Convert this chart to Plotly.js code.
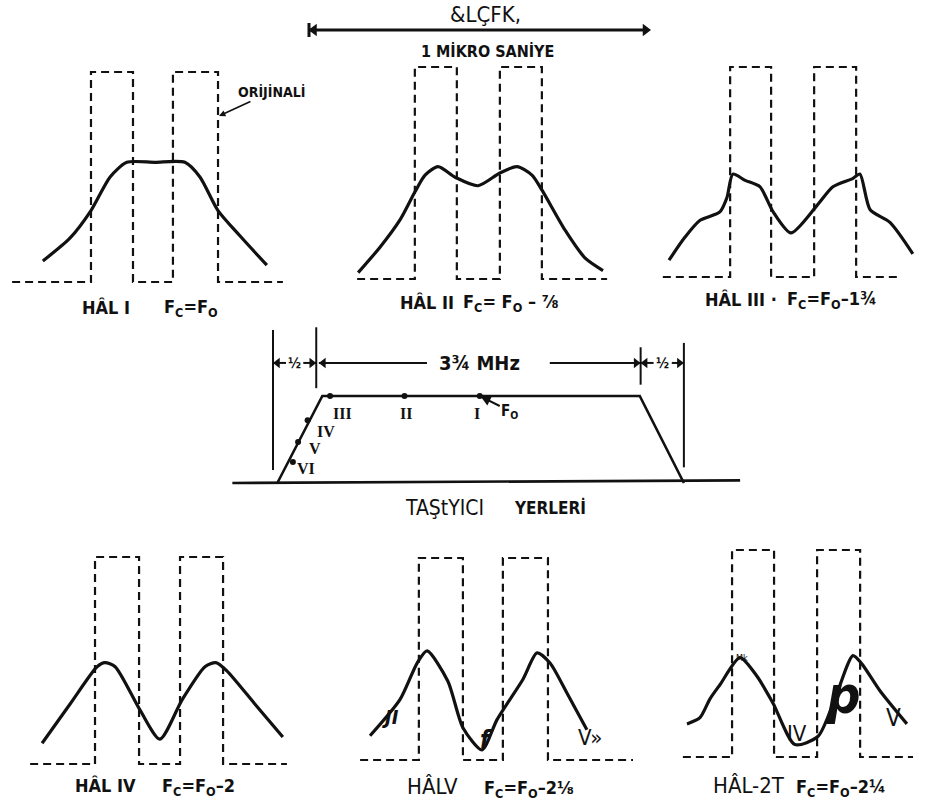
<!DOCTYPE html>
<html><head><meta charset="utf-8">
<script src="https://cdn.plot.ly/plotly-3.0.1.min.js"></script>
<style>html,body{margin:0;padding:0;background:#fff}#chart{width:944px;height:811px}</style>
</head><body><div id="chart"></div>
<script>
// ---------------- DATA (time in ns, amplitude relative to original pulse height) ----------------
const caseNames    = ['HÂL I', 'HÂL II', 'HÂL III ·', 'HÂL IV', 'HÂLV', 'HÂL-2T'];
const caseFormulas = ['F<sub>C</sub>=F<sub>O</sub>', 'F<sub>C</sub>= F<sub>O</sub> – ⅞', 'F<sub>C</sub>=F<sub>O</sub>–1¾',
                      'F<sub>C</sub>=F<sub>O</sub>–2', 'F<sub>C</sub>=F<sub>O</sub>–2⅛', 'F<sub>C</sub>=F<sub>O</sub>–2¼'];

const pulsesI = [[243, 366], [483, 615]];  const spanI = [12, 805];
const tI = [102, 182, 243, 299, 348, 430, 518, 562, 615, 679, 758];
const aI = [0.10, 0.21, 0.34, 0.50, 0.57, 0.57, 0.57, 0.50, 0.34, 0.22, 0.08];

const pulsesII = [[184, 307], [433, 556]]; const spanII = [15, 747];
const tII = [18, 82, 141, 184, 214, 252, 302, 369, 433, 483, 527, 556, 624, 682, 735];
const aII = [0.03, 0.15, 0.28, 0.41, 0.49, 0.53, 0.48, 0.44, 0.50, 0.53, 0.49, 0.42, 0.23, 0.10, 0.04];

const pulsesIII = [[220, 340], [466, 589]]; const spanIII = [23, 717];
const tIII = [41, 88, 132, 190, 211, 228, 264, 307, 346, 398, 474, 521, 580, 600, 630, 688, 755];
const aIII = [0.08, 0.19, 0.27, 0.31, 0.38, 0.49, 0.46, 0.43, 0.31, 0.21, 0.34, 0.43, 0.47, 0.49, 0.32, 0.26, 0.11];

const pulsesIV = [[205, 334], [454, 580]]; const spanIV = [15, 767];
const tIV = [50, 132, 211, 234, 264, 337, 395, 460, 527, 559, 591, 673, 755];
const aIV = [0.10, 0.29, 0.47, 0.49, 0.47, 0.26, 0.12, 0.31, 0.47, 0.49, 0.45, 0.29, 0.13];

const pulsesV = [[187, 316], [433, 565]]; const spanV = [15, 814];
const tV = [44, 132, 182, 211, 272, 316, 372, 416, 492, 533, 571, 621, 679];
const aV = [0.12, 0.30, 0.48, 0.54, 0.39, 0.16, 0.05, 0.20, 0.40, 0.53, 0.48, 0.33, 0.15];

const pulsesVI = [[211, 334], [460, 586]]; const spanVI = [67, 741];
const tVI = [79, 117, 146, 176, 234, 284, 331, 395, 463, 512, 565, 591, 644, 723];
const aVI = [0.16, 0.19, 0.28, 0.35, 0.48, 0.39, 0.26, 0.06, 0.10, 0.28, 0.49, 0.45, 0.32, 0.16];

// carrier positions on the pass band (frequency in MHz, relative amplitude)
const carrierLabels = ['I', 'II', 'III', 'IV', 'V', 'VI'];
const carrierFreq   = [2.39, 1.52, 0.66, 0.40, 0.29, 0.23];
const carrierAmp    = [1, 1, 1, 0.72, 0.47, 0.24];
const bandFreq = [0.05, 0.57, 4.24, 4.75];
const bandAmp  = [0, 1, 1, 0];
const bandMarks = [0, 0.5, 4.25, 4.75];
const bandDimLabels = ['½', '3¾ MHz', '½'];
const scaleBarNs = [0, 1000];

// ---------------- LAYOUT HELPERS ----------------
const W = 944, H = 811;
const NS = 0.3415;           // px per ns
const MHZ = 86.5;            // px per MHz
const INK = '#111';
const FN = '"Liberation Sans Narrow","DejaVu Sans Condensed","Liberation Sans",sans-serif';
const FB = '"DejaVu Sans Condensed","Liberation Sans Narrow","Liberation Sans",sans-serif';
const FS = '"Liberation Serif","DejaVu Serif",serif';

function xAx(pxL, pxR, px0, k) {
  return {domain: [pxL / W, pxR / W], range: [(pxL - px0) / k, (pxR - px0) / k], visible: false, fixedrange: true};
}
function yAx(pxT, pxB, px0, k) {
  return {domain: [1 - pxB / H, 1 - pxT / H], range: [(px0 - pxB) / k, (px0 - pxT) / k], visible: false, fixedrange: true};
}
function pulseTrain(p, span) {
  const x = [span[0]], y = [0];
  p.forEach(([s, e]) => { x.push(s, s, e, e); y.push(0, 1, 1, 0); });
  x.push(span[1]); y.push(0);
  return {x, y};
}

const panels = [
  {pulses: pulsesI,   span: spanI,   t: tI,   a: aI,   left: 8,   base: 282, top: 72},
  {pulses: pulsesII,  span: spanII,  t: tII,  a: aII,  left: 352, base: 279, top: 67},
  {pulses: pulsesIII, span: spanIII, t: tIII, a: aIII, left: 655, base: 277, top: 67},
  {pulses: pulsesIV,  span: spanIV,  t: tIV,  a: aIV,  left: 25,  base: 764, top: 557},
  {pulses: pulsesV,   span: spanV,   t: tV,   a: aV,   left: 355, base: 760, top: 558},
  {pulses: pulsesVI,  span: spanVI,  t: tVI,  a: aVI,  left: 660, base: 757, top: 550},
];
// label placement (px centres): [name x, name y, formula x, formula y]
const labelPos = [
  [106, 307, 191, 308], [427, 302, 511, 303], [741, 299, 832, 300],
  [105, 785, 198, 787], [432, 786, 529, 789], [749, 785, 841, 788],
];

const layout = {
  width: W, height: H, margin: {l: 0, r: 0, t: 0, b: 0},
  paper_bgcolor: '#ffffff', plot_bgcolor: 'rgba(0,0,0,0)', showlegend: false,
  annotations: [], shapes: []
};
const data = [];

panels.forEach((p, i) => {
  const n = i + 1, sx = n === 1 ? '' : String(n);
  const kY = p.base - p.top;
  layout['xaxis' + sx] = Object.assign(xAx(p.left, Math.min(p.left + 282, W - 1), p.left, NS), {anchor: 'y' + sx});
  layout['yaxis' + sx] = Object.assign(yAx(p.top - 28, p.base + 22, p.base, kY), {anchor: 'x' + sx});
  const pt = pulseTrain(p.pulses, p.span);
  data.push({x: pt.x, y: pt.y, xaxis: 'x' + sx, yaxis: 'y' + sx, mode: 'lines', hoverinfo: 'skip',
             line: {color: INK, width: 2.2, dash: '8px,5px'}});
  data.push({x: p.t, y: p.a, xaxis: 'x' + sx, yaxis: 'y' + sx, mode: 'lines', hoverinfo: 'skip',
             line: {color: INK, width: 3.2, shape: 'spline', smoothing: 0.7}});
  const lp = labelPos[i];
  const regular = i >= 4;
  layout.annotations.push({xref: 'paper', yref: 'paper', x: lp[0] / W, y: 1 - lp[1] / H, text: caseNames[i],
    showarrow: false, xanchor: 'center', yanchor: 'middle',
    font: {family: regular ? FN : FB, size: regular ? 22 : 18, color: INK, weight: regular ? 400 : 700}});
  layout.annotations.push({xref: 'paper', yref: 'paper', x: lp[2] / W, y: 1 - lp[3] / H, text: caseFormulas[i],
    showarrow: false, xanchor: 'center', yanchor: 'middle',
    font: {family: FB, size: 18, color: INK, weight: 700}});
});

// ---- pass-band diagram (subplot 7) ----
layout.xaxis7 = Object.assign(xAx(221, 750, 273, MHZ), {anchor: 'y7'});
layout.yaxis7 = Object.assign(yAx(318, 500, 483, 87), {anchor: 'x7'});
data.push({x: [-0.47, 5.40], y: [0, 0.03], xaxis: 'x7', yaxis: 'y7', mode: 'lines', hoverinfo: 'skip',
           line: {color: INK, width: 2.6}});
data.push({x: bandFreq, y: bandAmp, xaxis: 'x7', yaxis: 'y7', mode: 'lines', hoverinfo: 'skip',
           line: {color: INK, width: 2.6}});
const markSpans = [[0.15, 1.76], [1.09, 1.79], [1.13, 1.56], [0.18, 1.61]];
const vx = [], vy = [];
bandMarks.forEach((f, k) => { vx.push(f, f, null); vy.push(markSpans[k][0], markSpans[k][1], null); });
data.push({x: vx, y: vy, xaxis: 'x7', yaxis: 'y7', mode: 'lines', hoverinfo: 'skip', line: {color: INK, width: 2}});
data.push({x: carrierFreq, y: carrierAmp, xaxis: 'x7', yaxis: 'y7', mode: 'markers', hoverinfo: 'skip',
           marker: {color: INK, size: 6}});
const carrierShift = [[-3, -17], [2, -17], [12, -17], [18, -11], [17, -6], [13, -6]];
carrierLabels.forEach((lab, k) => {
  layout.annotations.push({xref: 'x7', yref: 'y7', x: carrierFreq[k], y: carrierAmp[k], text: lab,
    showarrow: false, xshift: carrierShift[k][0], yshift: carrierShift[k][1],
    font: {family: FS, size: 16, color: INK, weight: 700}});
});
layout.annotations.push({xref: 'x7', yref: 'y7', x: carrierFreq[0], y: 1, text: 'F<sub>O</sub>',
  showarrow: true, ax: 30, ay: 15, arrowhead: 2, arrowsize: 1, arrowwidth: 2, arrowcolor: INK, standoff: 1,
  font: {family: FB, size: 15, color: INK, weight: 700}});

// dimension lines with arrow heads (line segments + triangle markers)
const dimY = 1.38;
const dimSegs = [[0.15, 0, 'left'], [0.35, 0.5, 'right'], [1.78, 0.53, 'left'], [3.20, 4.25, 'right'],
                 [4.40, 4.25, 'left'], [4.61, 4.75, 'right']];
const dx = [], dy = [], hx = [], hy = [], hs = [];
const tip = 4.5 / MHZ;
dimSegs.forEach(([t, h, dir]) => {
  dx.push(t, h, null); dy.push(dimY, dimY, null);
  hx.push(dir === 'left' ? h + tip : h - tip); hy.push(dimY); hs.push('triangle-' + dir);
});
data.push({x: dx, y: dy, xaxis: 'x7', yaxis: 'y7', mode: 'lines', hoverinfo: 'skip', line: {color: INK, width: 2}});
data.push({x: hx, y: hy, xaxis: 'x7', yaxis: 'y7', mode: 'markers', hoverinfo: 'skip',
           marker: {symbol: hs, size: 9, color: INK}});
[[0.25, 0, 14], [2.39, 1, 20], [4.5, 2, 14]].forEach(([f, k, s]) => {
  layout.annotations.push({xref: 'x7', yref: 'y7', x: f, y: dimY, text: bandDimLabels[k], showarrow: false,
    font: {family: FB, size: s, color: INK, weight: 700}});
});

// ---- 1 µs scale bar (subplot 8) ----
layout.xaxis8 = Object.assign(xAx(250, 700, 309, NS), {anchor: 'y8'});
layout.yaxis8 = Object.assign(yAx(15, 45, 30, 10), {anchor: 'x8'});
const tipNs = 5 / NS;
data.push({x: [scaleBarNs[0], scaleBarNs[0], null, scaleBarNs[0], scaleBarNs[1] - tipNs], y: [-0.7, 0.7, null, 0, 0],
           xaxis: 'x8', yaxis: 'y8', mode: 'lines', hoverinfo: 'skip', line: {color: INK, width: 3}});
data.push({x: [scaleBarNs[0] + tipNs, scaleBarNs[1] - tipNs], y: [0, 0], xaxis: 'x8', yaxis: 'y8', mode: 'markers',
           hoverinfo: 'skip', marker: {symbol: ['triangle-left', 'triangle-right'], size: 11, color: INK}});

// ---- free text ----
function txt(px, py, text, family, size, weight, style) {
  layout.annotations.push({xref: 'paper', yref: 'paper', x: px / W, y: 1 - py / H, text: text,
    showarrow: false, xanchor: 'center', yanchor: 'middle',
    font: {family: family, size: size, color: INK, weight: weight, style: style || 'normal'}});
}
txt(486, 15, '&LÇFK,', FN, 22, 400);
txt(487, 52, '1 MİKRO SANİYE', FB, 16, 700);
// "ORİJİNALİ" with its pointer to the original pulse
layout.annotations.push({xref: 'paper', yref: 'paper', x: 219 / W, y: 1 - 116 / H, ax: 52, ay: -24,
  text: 'ORİJİNALİ', showarrow: true, arrowhead: 2, arrowsize: 0.8, arrowwidth: 1.6, arrowcolor: INK, standoff: 0,
  font: {family: FB, size: 14, color: INK, weight: 700}});
txt(444, 508, 'TAŞtYICI', FN, 21, 400);
txt(550, 507, 'YERLERİ', FB, 17, 700);
// scanning remnants visible in the reference
txt(390, 717, 'JI', FB, 20, 700, 'italic');
txt(486, 740, 'f', FB, 24, 700, 'italic');
txt(590, 737, 'V»', FN, 22, 400);
txt(843, 695, 'p', FB, 52, 700, 'italic');
txt(893, 718, 'V', FN, 24, 400);
txt(797, 733, 'IV', FN, 22, 400);
txt(742, 658, 'Mk', FN, 9, 400);

Plotly.newPlot('chart', data, layout, {staticPlot: true, displayModeBar: false});
</script>
</body></html>
